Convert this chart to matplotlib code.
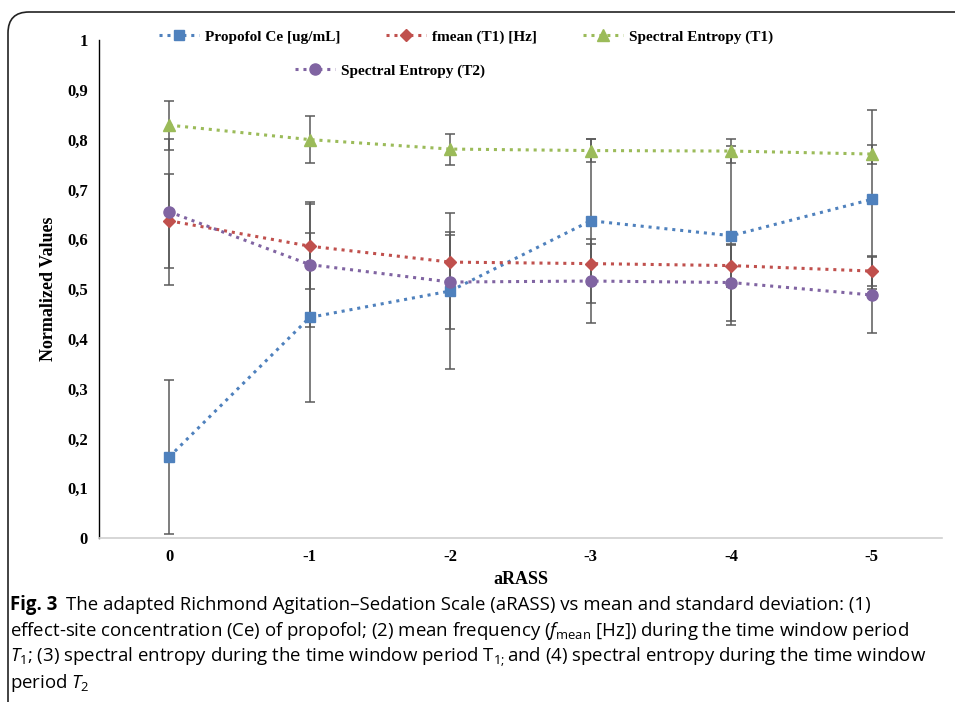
import matplotlib
matplotlib.use("Agg")
import matplotlib.pyplot as plt
from matplotlib.patches import FancyBboxPatch
from matplotlib.lines import Line2D

# ---- data ----
categories = ["0", "-1", "-2", "-3", "-4", "-5"]
propofol = [0.163, 0.443, 0.496, 0.637, 0.607, 0.680]
propofol_sd = [0.155, 0.169, 0.156, 0.165, 0.180, 0.180]
fmean = [0.637, 0.586, 0.554, 0.551, 0.547, 0.536]
fmean_sd = [0.094, 0.085, 0.060, 0.040, 0.042, 0.030]
se_t1 = [0.829, 0.800, 0.781, 0.778, 0.777, 0.771]
se_t1_sd = [0.049, 0.047, 0.031, 0.023, 0.024, 0.019]
se_t2 = [0.655, 0.549, 0.514, 0.516, 0.513, 0.488]
se_t2_sd = [0.146, 0.125, 0.095, 0.085, 0.078, 0.077]
yticks = [0, 0.1, 0.2, 0.3, 0.4, 0.5, 0.6, 0.7, 0.8, 0.9, 1]
ytick_labels = ["0", "0,1", "0,2", "0,3", "0,4", "0,5", "0,6", "0,7", "0,8", "0,9", "1"]
series_names = ["Propofol Ce [ug/mL]", "fmean (T1) [Hz]", "Spectral Entropy (T1)", "Spectral Entropy (T2)"]

plt.rcParams['mathtext.fontset'] = 'custom'
plt.rcParams['mathtext.rm'] = 'Open Sans'
plt.rcParams['mathtext.it'] = 'Open Sans:italic'

W, H = 955, 702
fig = plt.figure(figsize=(W / 100, H / 100), dpi=100)

# border (extends past the right and bottom edges)
box = FancyBboxPatch((8 / W, -0.05), 1.2, (702 - 12) / H + 0.05,
                     boxstyle="round,pad=0,rounding_size=0.022",
                     transform=fig.transFigure, fill=False, ec="#222222", lw=1.2,
                     mutation_aspect=W / H)
fig.patches.append(box)

ax = fig.add_axes([99 / W, 1 - 538 / H, (942 - 99) / W, (538 - 40) / H])
x = list(range(len(categories)))

serif = "Liberation Serif"
styles = [
    (propofol, propofol_sd, "#4F81BD", "s", 7),
    (fmean, fmean_sd, "#C0504D", "D", 6),
    (se_t1, se_t1_sd, "#9BBB59", "^", 8),
    (se_t2, se_t2_sd, "#8064A2", "o", 8),
]
handles = []
for (vals, sd, col, mk, ms), name in zip(styles, series_names):
    ax.errorbar(x, vals, yerr=sd, fmt="none", ecolor="#5a5a5a", elinewidth=1.1,
                capsize=3.5, capthick=1.1, zorder=2)
    ax.plot(x, vals, color=col, linestyle=(0, (1, 1.6)), lw=2.2, marker=mk,
            markersize=ms, markerfacecolor=col, markeredgecolor=col, zorder=3)
    handles.append(Line2D([], [], color=col, linestyle=(0, (1, 1.6)), lw=2.2,
                          marker=mk, markersize=ms, markerfacecolor=col,
                          markeredgecolor=col, label=name))

ax.set_xlim(-0.5, 5.5)
ax.set_ylim(0, 1)
ax.set_yticks(yticks)
ax.set_yticklabels(ytick_labels, fontfamily=serif, fontweight="bold", fontsize=12)
ax.set_xticks(x)
ax.set_xticklabels(categories, fontfamily=serif, fontweight="bold", fontsize=12)
ax.tick_params(axis="both", length=0, pad=8)
ax.spines["top"].set_visible(False)
ax.spines["right"].set_visible(False)
ax.spines["left"].set_color("black")
ax.spines["left"].set_linewidth(1.0)
ax.spines["bottom"].set_color("#d0d0d0")
ax.spines["bottom"].set_linewidth(1.2)
ax.set_xlabel("aRASS", fontfamily=serif, fontweight="bold", fontsize=13, labelpad=4)
ax.set_ylabel("Normalized Values", fontfamily=serif, fontweight="bold", fontsize=13, labelpad=7)

leg_font = {"family": serif, "weight": "bold", "size": 11}
leg1 = fig.legend(handles=handles[:3], loc="center", bbox_to_anchor=(466 / W, 1 - 37 / H),
                  ncol=3, frameon=False, prop=leg_font, handlelength=2.6,
                  columnspacing=3.0, handletextpad=0.4)
leg2 = fig.legend(handles=handles[3:], loc="center", bbox_to_anchor=(390 / W, 1 - 71 / H),
                  ncol=1, frameon=False, prop=leg_font, handlelength=2.6, handletextpad=0.4)

# caption
cap_font = "Open Sans"
cs = 13.4
fig.canvas.draw()
r = fig.canvas.get_renderer()
t0 = fig.text(10 / W, 1 - 605 / H, "Fig. 3", fontfamily=cap_font, fontweight="bold",
              fontsize=cs, va="center", ha="left")
bb = t0.get_window_extent(renderer=r)
fig.text((bb.x1 + 9) / W, 1 - 605 / H,
         "The adapted Richmond Agitation–Sedation Scale (aRASS) vs mean and standard deviation: (1)",
         fontfamily=cap_font, fontsize=cs, va="center", ha="left")
fig.text(10 / W, 1 - 631 / H,
         r"effect-site concentration (Ce) of propofol; (2) mean frequency ($f_{\mathrm{mean}}$ [Hz]) during the time window period",
         fontfamily=cap_font, fontsize=cs, va="center", ha="left")
fig.text(10 / W, 1 - 657 / H,
         r"$T_1$; (3) spectral entropy during the time window period T$_{1;}$and (4) spectral entropy during the time window",
         fontfamily=cap_font, fontsize=cs, va="center", ha="left")
fig.text(10 / W, 1 - 683 / H, r"period $T_2$",
         fontfamily=cap_font, fontsize=cs, va="center", ha="left")

fig.savefig("out.png", dpi=100)
